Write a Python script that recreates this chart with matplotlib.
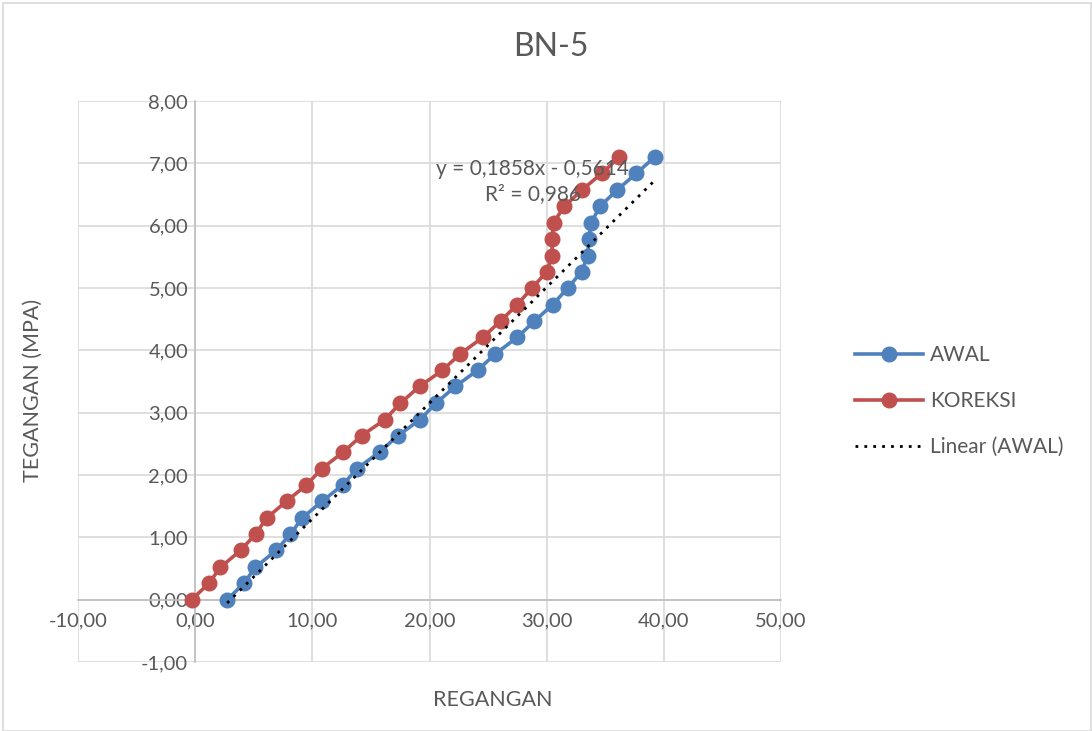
import matplotlib
matplotlib.use("Agg")
import matplotlib.pyplot as plt
from matplotlib.patches import Rectangle
from matplotlib.ticker import FuncFormatter
from matplotlib.lines import Line2D

plt.rcParams["font.family"] = ["Lato", "DejaVu Sans"]

# stress levels (MPa), shared by both series
tegangan = [0.00, 0.26, 0.52, 0.79, 1.05, 1.31, 1.58, 1.84, 2.10, 2.37,
            2.63, 2.89, 3.15, 3.42, 3.68, 3.94, 4.21, 4.47, 4.73, 5.00,
            5.26, 5.52, 5.79, 6.05, 6.31, 6.57, 6.84, 7.10]

regangan_awal = [2.73, 4.15, 5.14, 6.91, 8.13, 9.13, 10.84, 12.59, 13.80, 15.75,
                 17.30, 19.20, 20.55, 22.20, 24.10, 25.60, 27.50, 28.96, 30.50, 31.80,
                 32.98, 33.50, 33.60, 33.80, 34.55, 36.00, 37.66, 39.22]

regangan_koreksi = [-0.30, 1.16, 2.16, 3.87, 5.15, 6.10, 7.80, 9.50, 10.80, 12.65,
                    14.20, 16.20, 17.50, 19.15, 21.10, 22.60, 24.57, 26.06, 27.47, 28.75,
                    30.00, 30.46, 30.46, 30.60, 31.50, 33.00, 34.70, 36.20]

# trendline from the chart label
slope = 0.1858
intercept = -0.5614
r2 = 0.986

blue = "#4F81BD"
red = "#C0504D"
grey_text = "#595959"
grid_c = "#D9D9D9"


def comma_fmt(v, pos):
    return f"{v:.2f}".replace(".", ",")


fig = plt.figure(figsize=(10.92, 7.31), dpi=100)
ax = fig.add_axes([78 / 1092, 1 - 662 / 731, (781 - 78) / 1092, (662 - 101) / 731])

ax.plot(regangan_awal, tegangan, color=blue, lw=2.6, marker="o", ms=10.5, zorder=3)
ax.plot(regangan_koreksi, tegangan, color=red, lw=2.6, marker="o", ms=10.5, zorder=3)

x0, x1 = min(regangan_awal), max(regangan_awal)
ax.plot([x0, x1], [slope * x0 + intercept, slope * x1 + intercept],
        color="black", lw=2.0, linestyle=(0, (1, 2.2)), zorder=4)

eq = f"y = {slope:.4f}x - {abs(intercept):.4f}".replace(".", ",")
ax.text(28.8, 6.71, eq + "\n" + f"R² = {r2:.3f}".replace(".", ","),
        ha="center", va="center", fontsize=15, color=grey_text,
        linespacing=1.35, zorder=5)

ax.set_xlim(-10, 50)
ax.set_ylim(-1, 8)
ax.set_xticks(range(-10, 51, 10))
ax.set_yticks(range(-1, 9))
ax.xaxis.set_major_formatter(FuncFormatter(comma_fmt))
ax.yaxis.set_major_formatter(FuncFormatter(comma_fmt))
ax.tick_params(length=0, labelsize=14.5, colors=grey_text)
ax.tick_params(axis="x", pad=9)
ax.tick_params(axis="y", pad=5)
ax.grid(True, color=grid_c, lw=1.2, zorder=0)
ax.set_axisbelow(True)

ax.spines["left"].set_position(("data", 0))
ax.spines["bottom"].set_position(("data", 0))
for s in ("left", "bottom"):
    ax.spines[s].set_color("#BFBFBF")
    ax.spines[s].set_linewidth(1.2)
for s in ("top", "right"):
    ax.spines[s].set_visible(False)

fig.text(551 / 1092, 1 - 47 / 731, "BN-5", ha="center", va="center",
         fontsize=23, color=grey_text)
fig.text(33 / 1092, 1 - 390 / 731, "TEGANGAN (MPA)", rotation=90,
         ha="center", va="center", fontsize=15.5, color=grey_text)
fig.text(493 / 1092, 1 - 700 / 731, "REGANGAN", ha="center", va="center",
         fontsize=15.5, color=grey_text)

handles = [
    Line2D([], [], color=blue, lw=2.6, marker="o", ms=10.5),
    Line2D([], [], color=red, lw=2.6, marker="o", ms=10.5),
    Line2D([], [], color="black", lw=2.0, linestyle=(0, (1, 2.2))),
]
fig.legend(handles, ["AWAL", "KOREKSI", "Linear (AWAL)"],
           loc="center left", bbox_to_anchor=(836 / 1092, 1 - 401 / 731),
           frameon=False, fontsize=15, labelcolor=grey_text,
           handlelength=3.3, handletextpad=0.3, labelspacing=1.25)

fig.add_artist(Rectangle((0.003, 0.0), 0.996, 0.996, transform=fig.transFigure,
                         fill=False, edgecolor=grid_c, lw=1.2))

fig.savefig("out.png", dpi=100)
